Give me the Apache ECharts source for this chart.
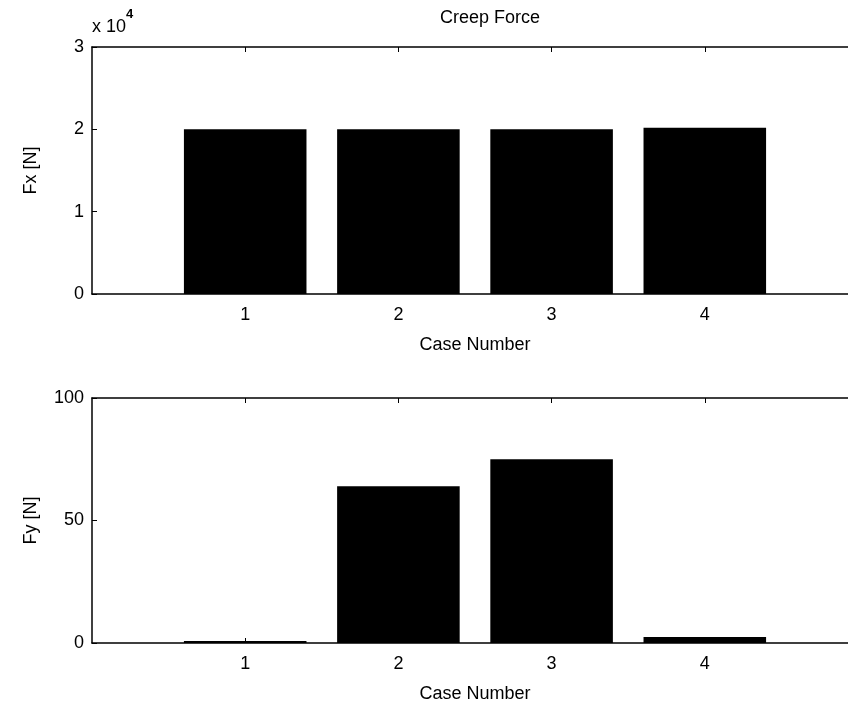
<!DOCTYPE html>
<html><head><meta charset="utf-8">
<script src="https://cdn.jsdelivr.net/npm/echarts@6/dist/echarts.min.js"></script>
<style>html,body{margin:0;padding:0;background:#fff}#c{width:848px;height:706px}</style>
</head><body><div id="c"></div>
<script>
var categories = ['0', '1', '2', '3', '4', '5'];
var fxValues = ['-', 2.0, 2.0, 2.0, 2.02, '-'];   // x 10^4 N
var fyValues = ['-', 0.8, 64, 75, 2.4, '-'];      // N

var font = 'Liberation Sans, Arial, sans-serif';
var FS = 18;
var lab = {color: '#000', fontSize: FS, fontFamily: font};
function xLabel(v) { return (v === '0' || v === '5') ? '' : v; }

function bottomX(gi) {
  return {
    type: 'category', gridIndex: gi, data: categories, boundaryGap: false,
    axisLine: {lineStyle: {color: '#000', width: 1.5}},
    axisTick: {inside: true, length: 5, lineStyle: {color: '#000'},
      interval: function (i) { return i > 0 && i < 5; }},
    axisLabel: Object.assign({formatter: xLabel, margin: 12, interval: 0}, lab),
    name: 'Case Number', nameLocation: 'middle', nameGap: 42,
    nameTextStyle: {color: '#000', fontSize: FS, fontFamily: font},
    splitLine: {show: false}
  };
}
function topX(gi) {
  return {
    type: 'category', gridIndex: gi, data: categories, boundaryGap: false, position: 'top',
    axisLine: {lineStyle: {color: '#000', width: 1.5}},
    axisTick: {inside: true, length: 5, lineStyle: {color: '#000'},
      interval: function (i) { return i > 0 && i < 5; }},
    axisLabel: {show: false}, splitLine: {show: false}
  };
}
function yAx(gi, max, interval, name) {
  return {
    type: 'value', gridIndex: gi, min: 0, max: max, interval: interval,
    axisLine: {show: true, lineStyle: {color: '#000', width: 1.5}},
    axisTick: {show: true, inside: true, length: 5, lineStyle: {color: '#000'}},
    axisLabel: Object.assign({margin: 8}, lab),
    splitLine: {show: false},
    name: name, nameLocation: 'middle', nameGap: 52, nameRotate: 90,
    nameTextStyle: {color: '#000', fontSize: FS, fontFamily: font}
  };
}

var chart = echarts.init(document.getElementById('c'), null, {renderer: 'canvas'});
chart.setOption({
  backgroundColor: '#fff',
  animation: false,
  title: {
    text: 'Creep Force', left: 485, top: 4, textAlign: 'center',
    textStyle: {color: '#000', fontSize: FS, fontWeight: 'normal', fontFamily: font}
  },
  graphic: [{
    type: 'text', left: 92, top: 8,
    style: {
      text: '{a|x 10}{b|4}',
      rich: {
        a: {fontSize: FS, fontFamily: font, fill: '#000', verticalAlign: 'bottom', padding: [10, 0, 0, 0]},
        b: {fontSize: 13, fontFamily: font, fill: '#000', fontWeight: 'bold', verticalAlign: 'top'}
      }
    }
  }],
  grid: [
    {left: 92, top: 47, width: 766, height: 247, outerBoundsMode: 'none', containLabel: false},
    {left: 92, top: 398, width: 766, height: 245, outerBoundsMode: 'none', containLabel: false}
  ],
  xAxis: [bottomX(0), topX(0), bottomX(1), topX(1)],
  yAxis: [yAx(0, 3, 1, 'Fx [N]'), yAx(1, 100, 50, 'Fy [N]')],
  series: [
    {type: 'bar', xAxisIndex: 0, yAxisIndex: 0, data: fxValues, barWidth: '80%',
     itemStyle: {color: '#000'}},
    {type: 'bar', xAxisIndex: 2, yAxisIndex: 1, data: fyValues, barWidth: '80%',
     itemStyle: {color: '#000'}}
  ]
});
</script></body></html>
